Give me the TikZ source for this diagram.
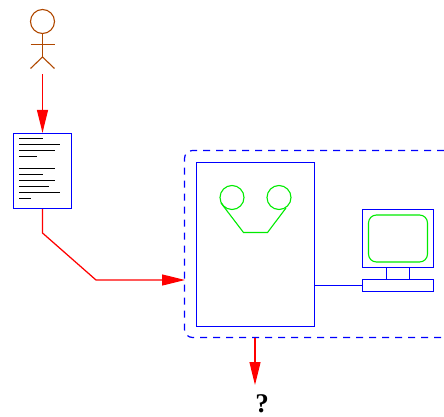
\documentclass[tikz,border=0pt]{standalone}
\usepackage{fontspec}
\setmainfont{Liberation Serif}
\usetikzlibrary{arrows.meta}
\definecolor{actorbrown}{RGB}{176,72,0}
\definecolor{puregreen}{RGB}{0,235,0}
\tikzset{
  box/.style={draw=blue,line width=1.25pt,inner sep=0pt},
  flow/.style={draw=red,line width=1.25pt,-{Triangle[length=23pt,width=11pt]}},
  wire/.style={draw=blue,line width=1.1pt},
  tape/.style={draw=puregreen,line width=1.1pt},
  actorline/.style={draw=actorbrown,line width=1.1pt},
  textline/.style={draw=black,line width=0.8pt},
  reel/.style={circle,draw=puregreen,line width=1.1pt,minimum size=24pt,inner sep=0pt}
}
\begin{document}
\begin{tikzpicture}[x=1pt,y=-1pt]
\useasboundingbox (0,0) rectangle (444,417);
% actor
\node[circle,actorline,minimum size=24pt,inner sep=0pt] (head) at (42.5,21.5) {};
\coordinate (hip) at (42.5,57);
\coordinate (footL) at (30.5,68.5);
\coordinate (footR) at (54.5,68.5);
\coordinate (handL) at (30.5,44.5);
\coordinate (handR) at (54.5,44.5);
\coordinate (actorout) at (42.5,74.5);
\draw[actorline] (head.south) -- (hip);
\draw[actorline] (handL) -- (handR);
\draw[actorline] (footL) -- (hip) -- (footR);
% document
\node[box,minimum width=58pt,minimum height=75pt] (doc) at (42.5,171) {};
\foreach \y/\x in {138.5/42.5,144.5/60,150.5/54.5,156.5/36.5,168.5/54.5,174.5/42.5,180.5/54.5,186.5/48.5,192.5/60,198.5/30.5}
  \draw[textline] (19,\y) -- (\x,\y);
\draw[flow] (actorout) -- (doc.north);
% system
\coordinate (sysTR) at (444,150.5);
\coordinate (sysBR) at (444,337.5);
\coordinate (sysIn) at (185,280);
\coordinate (sysOut) at (255,338);
\draw[wire,dash pattern=on 7pt off 6pt,line width=1.2pt,rounded corners=8pt] (sysTR) -- (184.5,150.5) -- (184.5,337.5) -- (sysBR);
\node[box,minimum width=118pt,minimum height=164pt] (tapeunit) at (255.5,244.5) {};
\node[reel] (reelL) at (232,197.5) {};
\node[reel] (reelR) at (279,197.5) {};
\draw[tape] (221,203) -- (243.5,232.5) -- (267.5,232.5) -- (286,208);
% terminal
\node[box,minimum width=71pt,minimum height=58pt] (monitor) at (398,238.5) {};
\node[draw=puregreen,line width=1.1pt,rounded corners=8pt,minimum width=59pt,minimum height=47pt,inner sep=0pt] (screen) at (398,238.5) {};
\node[box,minimum width=71pt,minimum height=12pt] (keyboard) at (398,285.5) {};
\draw[wire] (386.5,267.5) -- (386.5,279.5);
\draw[wire] (409.5,267.5) -- (409.5,279.5);
\draw[wire] (tapeunit.east |- keyboard.west) -- (keyboard.west);
% flows
\draw[flow] (doc.south) -- (42.5,233) -- (96,280) -- (sysIn);
\coordinate (outTip) at (255,385);
\draw[flow] (sysOut) -- (outTip);
\node[font=\bfseries\fontsize{27}{29}\selectfont,inner sep=0pt] (q) at (262,403.5) {?};
\end{tikzpicture}
\end{document}
